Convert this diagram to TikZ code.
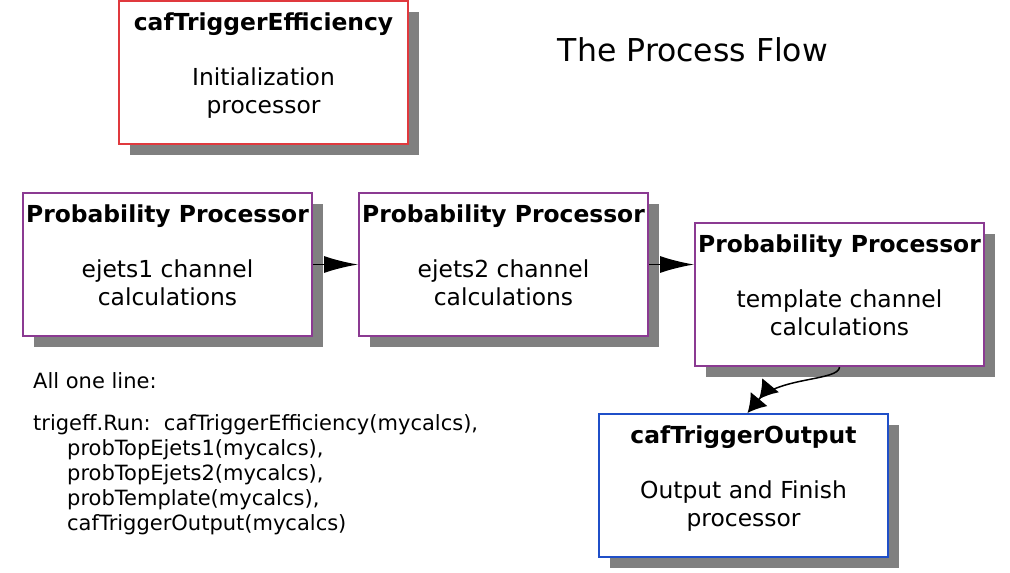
\documentclass[tikz,border=0pt]{standalone}
\usepackage{fontspec}
\setmainfont{DejaVu Sans}
\usetikzlibrary{arrows.meta, positioning, shadows}
\definecolor{cRed}   {HTML}{E0393E}
\definecolor{cPurple}{HTML}{8B3A92}
\definecolor{cBlue}  {HTML}{1F4FC8}
\definecolor{cShadow}{HTML}{808080}

\begin{document}
\begin{tikzpicture}[x=1pt, y=-1pt,
      bx/.style = {draw=#1, line width=2pt, fill=white, minimum width=289pt, minimum height=143pt, inner sep=0pt,
                   drop shadow={shadow xshift=11pt, shadow yshift=-11pt, fill=cShadow, opacity=1}},
      tx/.style = {anchor=north, yshift=-12.5pt, inner sep=0pt, align=center, font=\fontsize{23.4}{28}\selectfont},
      ar/.style = {-{Latex[length=34pt, width=17pt]}, line width=1.5pt} ]
    \useasboundingbox[fill=white] (0,0) rectangle (1010,573);

    \node[font=\fontsize{31.5}{37}\selectfont] (title) at (693,50) {The Process Flow};

    \node[bx=cRed] (init) at (263.5,72.5) {};
    \node[tx] (initT) at (init.north) {\textbf{cafTriggerEfficiency}\\[27pt]Initialization\\processor};

    \node[bx=cPurple] (ej1) at (167.5,264.5) {};
    \node[tx] (ej1T) at (ej1.north) {\textbf{Probability Processor}\\[27pt]ejets1 channel\\calculations};
    \node[bx=cPurple] (ej2) at (503.5,264.5) {};
    \node[tx] (ej2T) at (ej2.north) {\textbf{Probability Processor}\\[27pt]ejets2 channel\\calculations};
    \node[bx=cPurple] (tmpl) at (839.5,294.5) {};
    \node[tx] (tmplT) at (tmpl.north) {\textbf{Probability Processor}\\[27pt]template channel\\calculations};

    \node[bx=cBlue] (out) at (743.5,485.5) {};
    \node[tx] (outT) at (out.north) {\textbf{cafTriggerOutput}\\[27pt]Output and Finish\\processor};

    \draw[ar] (ej1) -- (ej2);
    \draw[ar] (ej2.east) -- (ej2.east -| tmpl.west);
    \draw[line width=1.5pt, -{Latex[length=18pt, width=22pt]Latex[length=18pt, width=22pt]}]
      (tmpl.south) .. controls +(0,14) and +(30,-36) .. ([xshift=4pt]out.north);

    \node[anchor=north west, inner sep=0pt, align=left, font=\fontsize{21}{25}\selectfont] (call) at (33,372)
      {All one line:\\[17pt]
       trigeff.Run:\ \ cafTriggerEfficiency(mycalcs),\\
       \hspace*{34pt}probTopEjets1(mycalcs),\\
       \hspace*{34pt}probTopEjets2(mycalcs),\\
       \hspace*{34pt}probTemplate(mycalcs),\\
       \hspace*{34pt}cafTriggerOutput(mycalcs)};
  \end{tikzpicture}
\end{document}
